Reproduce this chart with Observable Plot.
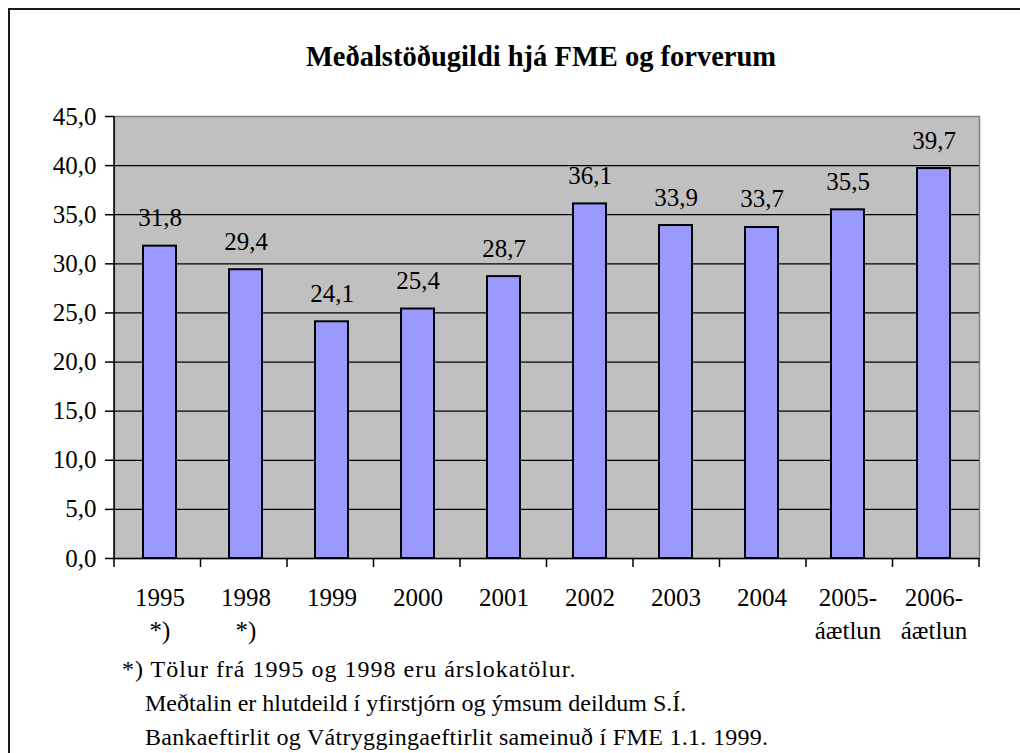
<!DOCTYPE html>
<html>
<head>
<meta charset="utf-8">
<script src="https://cdn.jsdelivr.net/npm/d3@7"></script>
<script src="https://cdn.jsdelivr.net/npm/@observablehq/plot@0.6"></script>
<style>
  html, body { margin: 0; padding: 0; background: #fff; }
  #wrap { position: relative; width: 1020px; height: 753px; overflow: hidden; font-family: "Liberation Serif", "Times New Roman", serif; color: #000; }
  #frame { position: absolute; left: 8px; top: 8px; right: -4px; bottom: -4px; border-top: 2px solid #1a1a1a; border-left: 2px solid #1a1a1a; }
  #chart { position: absolute; left: 0; top: 0; }
  #title { position: absolute; left: 0; width: 1082px; top: 43px; text-align: center; font-size: 28.5px; font-weight: bold; line-height: 1; white-space: nowrap; }
  .cap { position: absolute; font-size: 24px; line-height: 1; white-space: nowrap; }
</style>
</head>
<body>
<div id="wrap">
  <div id="frame"></div>
  <div id="chart"></div>
  <div id="title">Meðalstöðugildi hjá FME og forverum</div>
  <div class="cap" style="left:122px; top:657px; letter-spacing:1px;">*) Tölur frá 1995 og 1998 eru árslokatölur.</div>
  <div class="cap" style="left:145px; top:691px;">Meðtalin er hlutdeild í yfirstjórn og ýmsum deildum S.Í.</div>
  <div class="cap" style="left:145px; top:725px; letter-spacing:0.3px;">Bankaeftirlit og Vátryggingaeftirlit sameinuð í FME 1.1. 1999.</div>
</div>
<script>
const categories = ["1995\n*)", "1998\n*)", "1999", "2000", "2001", "2002", "2003", "2004", "2005-\náætlun", "2006-\náætlun"];
const values = [31.8, 29.4, 24.1, 25.4, 28.7, 36.1, 33.9, 33.7, 35.5, 39.7];
const yTicks = [0, 5, 10, 15, 20, 25, 30, 35, 40, 45];
const gridValues = [5, 10, 15, 20, 25, 30, 35, 40];

const data = categories.map((c, i) => ({ cat: c, value: values[i] }));
const fmt = v => v.toFixed(1).replace(".", ",");

const chart = Plot.plot({
  width: 1020,
  height: 753,
  marginLeft: 114,
  marginRight: 41,
  marginTop: 116,
  marginBottom: 195,
  style: { fontFamily: "'Liberation Serif', 'Times New Roman', serif", fontSize: "25px", background: "transparent", color: "#000" },
  x: { domain: categories, paddingInner: 0.62, paddingOuter: 0.31, label: null },
  y: { domain: [0, 45], ticks: yTicks, label: null },
  marks: [
    Plot.frame({ fill: "#c0c0c0", stroke: "#808080", strokeWidth: 1.5 }),
    Plot.ruleY(gridValues, { stroke: "#000", strokeWidth: 1.2 }),
    Plot.ruleY([0], { stroke: "#000", strokeWidth: 1.5 }),
    Plot.barY(data, { x: "cat", y: "value", fill: "#9999ff", stroke: "#000", strokeWidth: 2 }),
    Plot.text(data, { x: "cat", y: "value", text: d => fmt(d.value), lineAnchor: "bottom", dy: -20, fontSize: 25, fill: "#000" }),
    Plot.axisY({ ticks: yTicks, tickFormat: fmt, tickSize: 9, tickPadding: 9, fontSize: 25, stroke: "#000", strokeWidth: 1.5, label: null }),
    Plot.axisX({ tickSize: 0, tickPadding: 24, fontSize: 25, lineHeight: 1.32, label: null })
  ]
});
document.getElementById("chart").appendChild(chart);

const xs = chart.scale("x");
const ys = chart.scale("y");
const svg = d3.select(chart);
const y0 = ys.apply(0), y45 = ys.apply(45);
const x0 = xs.range[0];
const n = categories.length;
const step = (xs.range[1] - xs.range[0]) / n;
const g = svg.append("g").attr("stroke", "#000");
g.append("line").attr("x1", x0).attr("x2", x0).attr("y1", y45).attr("y2", y0 + 9).attr("stroke-width", 1.5);
d3.range(1, n + 1).forEach(i => {
  const xx = x0 + i * step;
  g.append("line").attr("x1", xx).attr("x2", xx).attr("y1", y0).attr("y2", y0 + 9).attr("stroke-width", 1.5);
});
</script>
</body>
</html>
